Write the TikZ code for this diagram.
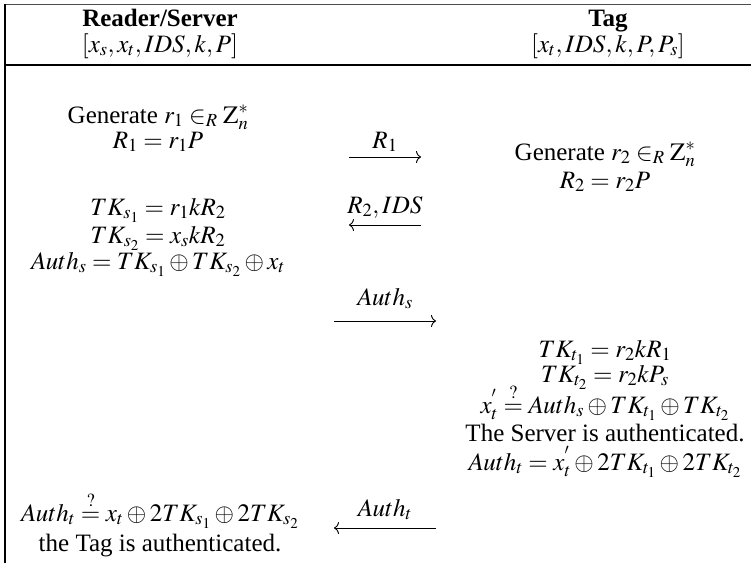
\documentclass[tikz,border=0pt]{standalone}
\usepackage{mathptmx}
\usepackage{amsmath}
\usepackage{fontspec}
\setmainfont{Liberation Serif}
\usetikzlibrary{arrows.meta}
\begin{document}
\begin{tikzpicture}[x=1pt,y=1pt,
  txt/.style={inner sep=0pt, anchor=base, font=\fontsize{25}{30}\selectfont},
  msg/.style={line width=0.9pt, -{To[length=5pt,width=12pt]}},
  frame/.style={line width=1.5pt, black}]
\useasboundingbox (0,0) rectangle (751,-563);
% frame
\draw[line width=1pt, black!70] (5,-4) -- (751,-4);
\draw[frame] (5,-4) -- (5,-563);
\draw[frame] (5,-65) -- (751,-65);
% header
\node[txt] (rs) at (160,-26) {\textbf{Reader/Server}};
\node[txt] (rsk) at (160,-52) {$[x_s,x_t,IDS,k,P]$};
\node[txt] (tg) at (608,-26) {\textbf{Tag}};
\node[txt] (tgk) at (608,-52) {$[x_t,IDS,k,P,P_s]$};
% reader side
\node[txt] (g1) at (158,-123) {Generate $r_1\in_R \mathrm{Z}_n^*$};
\node[txt] (r1) at (158,-148) {$R_1=r_1P$};
\node[txt] (ts1) at (158,-215) {$TK_{s_1}=r_1kR_2$};
\node[txt] (ts2) at (158,-243) {$TK_{s_2}=x_skR_2$};
\node[txt] (as) at (158,-269) {$Auth_s=TK_{s_1}\oplus TK_{s_2}\oplus x_t$};
\node[txt] (vt) at (160,-521) {$Auth_t\stackrel{?}{=}x_t\oplus 2TK_{s_1}\oplus 2TK_{s_2}$};
\node[txt] (ta) at (160,-551) {the Tag is authenticated.};
% tag side
\node[txt] (g2) at (605,-160) {Generate $r_2\in_R \mathrm{Z}_n^*$};
\node[txt] (r2) at (605,-188) {$R_2=r_2P$};
\node[txt] (tt1) at (605,-357) {$TK_{t_1}=r_2kR_1$};
\node[txt] (tt2) at (605,-382) {$TK_{t_2}=r_2kP_s$};
\node[txt] (vx) at (605,-413) {$x_t^{'}\stackrel{?}{=}Auth_s\oplus TK_{t_1}\oplus TK_{t_2}$};
\node[txt] (sa) at (605,-441) {The Server is authenticated.};
\node[txt] (at) at (605,-470) {$Auth_t=x_t^{'}\oplus 2TK_{t_1}\oplus 2TK_{t_2}$};
% messages
\coordinate (m1a) at (349,-157); \coordinate (m1b) at (421,-157);
\draw[msg] (m1a) -- (m1b);
\node[txt] (m1l) at (385,-148) {$R_1$};
\coordinate (m2a) at (421,-225); \coordinate (m2b) at (349,-225);
\draw[msg] (m2a) -- (m2b);
\node[txt] (m2l) at (385,-213) {$R_2,IDS$};
\coordinate (m3a) at (334,-321); \coordinate (m3b) at (436,-321);
\draw[msg] (m3a) -- (m3b);
\node[txt] (m3l) at (385,-305) {$Auth_s$};
\coordinate (m4a) at (436,-528); \coordinate (m4b) at (334,-528);
\draw[msg] (m4a) -- (m4b);
\node[txt] (m4l) at (385,-516) {$Auth_t$};
\end{tikzpicture}
\end{document}
